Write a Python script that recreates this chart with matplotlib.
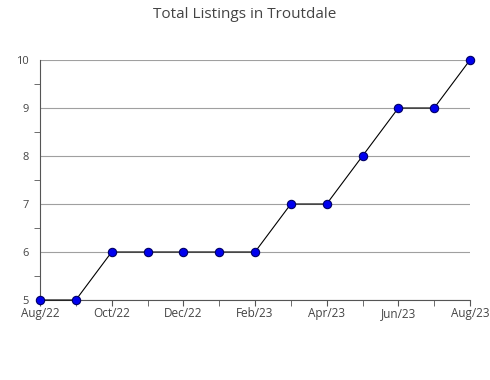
"""Total listings in Troutdale, monthly line chart."""

import matplotlib

matplotlib.use("Agg")
import matplotlib.pyplot as plt
from matplotlib.ticker import MultipleLocator

plt.rcParams["font.family"] = ["Open Sans", "DejaVu Sans"]

MONTHS = [
    "Aug/22", "Sep/22", "Oct/22", "Nov/22", "Dec/22", "Jan/23", "Feb/23",
    "Mar/23", "Apr/23", "May/23", "Jun/23", "Jul/23", "Aug/23",
]
LISTINGS = [5, 5, 6, 6, 6, 6, 6, 7, 7, 8, 9, 9, 10]
Y_TICKS = [5, 6, 7, 8, 9, 10]

GRID_COLOR = "#a0a0a0"
AXIS_COLOR = "#555555"
TEXT_COLOR = "#444444"


def main() -> None:
    fig = plt.figure(figsize=(4.9, 3.8), dpi=100)
    ax = fig.add_axes([40 / 490, 1 - 300 / 380, 430 / 490, 240 / 380])

    positions = list(range(len(MONTHS)))
    ax.plot(
        positions,
        LISTINGS,
        color="black",
        linewidth=0.8,
        marker="o",
        markersize=6,
        markerfacecolor="#0000ee",
        markeredgecolor="#000066",
        markeredgewidth=0.8,
        clip_on=False,
        zorder=3,
    )

    ax.set_xlim(0, len(MONTHS) - 1)
    ax.set_ylim(5, 10)

    ax.set_xticks(positions[::2])
    ax.set_xticklabels(MONTHS[::2])
    ax.set_xticks(positions, minor=True)
    ax.set_yticks(Y_TICKS)
    ax.yaxis.set_minor_locator(MultipleLocator(0.5))

    ax.grid(True, axis="y", which="major", color=GRID_COLOR, linewidth=0.8)
    ax.set_axisbelow(True)

    for side in ("top", "right"):
        ax.spines[side].set_visible(False)
    for side in ("left", "bottom"):
        ax.spines[side].set_color(AXIS_COLOR)
        ax.spines[side].set_linewidth(0.8)

    ax.tick_params(axis="x", which="both", direction="out", length=4,
                   color=AXIS_COLOR, labelsize=8.5, labelcolor=TEXT_COLOR, pad=1)
    ax.tick_params(axis="y", which="major", length=0,
                   labelsize=8, labelcolor=TEXT_COLOR, pad=8)
    ax.tick_params(axis="y", which="minor", direction="out", length=4,
                   color=AXIS_COLOR)

    fig.suptitle("Total Listings in Troutdale", x=245 / 490, y=1 - 15 / 380,
                 fontsize=11, color=TEXT_COLOR, va="center")

    fig.savefig("out.png", dpi=100)
    plt.close(fig)


if __name__ == "__main__":
    main()
